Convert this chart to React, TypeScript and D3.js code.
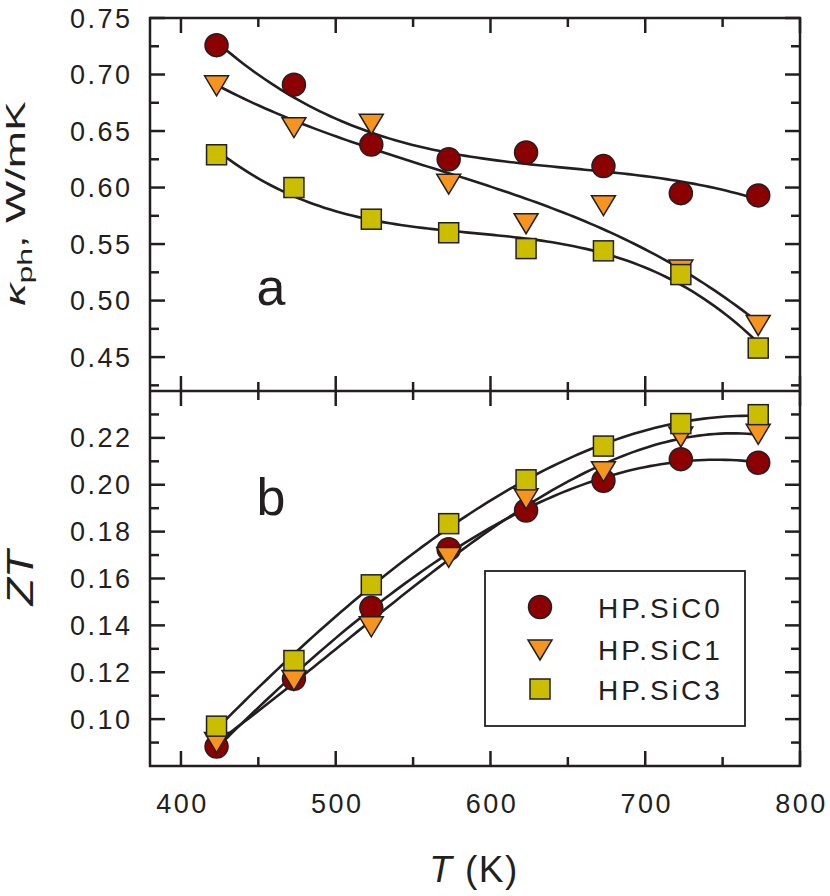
import React from 'react';
import * as d3 from 'd3';

// Temperatures (K)
const temperatures = [423, 473, 523, 573, 623, 673, 723, 773];

// Panel a: phonon thermal conductivity (W/mK)
const kappaSiC0 = [0.726, 0.691, 0.638, 0.625, 0.631, 0.619, 0.595, 0.593];
const kappaSiC1 = [0.690, 0.653, 0.656, 0.603, 0.568, 0.584, 0.527, 0.478];
const kappaSiC3 = [0.629, 0.600, 0.572, 0.560, 0.546, 0.544, 0.523, 0.458];

// Panel b: ZT
const ztSiC0 = [0.0883, 0.1172, 0.1475, 0.1725, 0.189, 0.2017, 0.2109, 0.2094];
const ztSiC1 = [0.090, 0.1165, 0.1394, 0.169, 0.194, 0.2056, 0.2204, 0.2215];
const ztSiC3 = [0.097, 0.125, 0.1573, 0.1834, 0.2021, 0.2165, 0.2261, 0.2299];

const seriesNames = ['HP.SiC0', 'HP.SiC1', 'HP.SiC3'];

// Axis ticks
const xMajorTicks = [400, 500, 600, 700, 800];
const xMinorTicks = [450, 550, 650, 750];
const yAMajorTicks = [0.45, 0.5, 0.55, 0.6, 0.65, 0.7, 0.75];
const yAMinorTicks = [0.425, 0.475, 0.525, 0.575, 0.625, 0.675, 0.725];
const yBMajorTicks = [0.1, 0.12, 0.14, 0.16, 0.18, 0.2, 0.22];
const yBMinorTicks = [0.09, 0.11, 0.13, 0.15, 0.17, 0.19, 0.21, 0.23];

const INK = '#231F20';
const COLORS = ['#8B0000', '#F7941D', '#CBBE00'];

// least-squares cubic fit of y on x
function cubicFit(xs: number[], ys: number[]) {
  const m = d3.mean(xs) as number;
  const s = 100;
  const n = 4;
  const A: number[][] = Array.from({ length: n }, () => new Array(n + 1).fill(0));
  xs.forEach((xv, i) => {
    const t = (xv - m) / s;
    const pw = [1, t, t * t, t * t * t];
    for (let r = 0; r < n; r++) {
      for (let c = 0; c < n; c++) A[r][c] += pw[r] * pw[c];
      A[r][n] += pw[r] * ys[i];
    }
  });
  for (let i = 0; i < n; i++) {
    let p = i;
    for (let r = i + 1; r < n; r++) if (Math.abs(A[r][i]) > Math.abs(A[p][i])) p = r;
    [A[i], A[p]] = [A[p], A[i]];
    for (let r = 0; r < n; r++) {
      if (r === i) continue;
      const f = A[r][i] / A[i][i];
      for (let c = i; c <= n; c++) A[r][c] -= f * A[i][c];
    }
  }
  const coef = A.map((row, i) => row[n] / row[i]);
  return (xv: number) => {
    const t = (xv - m) / s;
    return coef[0] + coef[1] * t + coef[2] * t * t + coef[3] * t * t * t;
  };
}

function Marker({ kind, cx, cy }: { kind: number; cx: number; cy: number }) {
  if (kind === 0)
    return <circle cx={cx} cy={cy} r={11.5} fill={COLORS[0]} stroke={INK} strokeWidth={1.5} />;
  if (kind === 1) {
    const w = 12, h = 10;
    return (
      <path
        d={`M${cx - w},${cy - h}L${cx + w},${cy - h}L${cx},${cy + h}Z`}
        fill={COLORS[1]}
        stroke={INK}
        strokeWidth={1.5}
        strokeLinejoin="miter"
      />
    );
  }
  return <rect x={cx - 10} y={cy - 10} width={20} height={20} fill={COLORS[2]} stroke={INK} strokeWidth={1.5} />;
}

const tickFont: React.CSSProperties = {
  fontFamily: '"Liberation Sans", Arial, sans-serif',
  fontSize: 27,
  letterSpacing: '2.5px',
  fill: INK,
};

export default function App() {
  const left = 150, right = 800, topA = 18, mid = 391, bottomB = 766;
  const x = d3.scaleLinear().domain([380, 800]).range([left, right]);
  const yA = d3.scaleLinear().domain([0.42, 0.75]).range([mid, topA]);
  const yB = d3.scaleLinear().domain([0.08, 0.24]).range([bottomB, mid]);

  const sampleT = d3.range(0, 101).map((i) => 423 + (i * (773 - 423)) / 100);
  const panelA = [kappaSiC0, kappaSiC1, kappaSiC3];
  const panelB = [ztSiC0, ztSiC1, ztSiC3];

  const curve = (vals: number[], y: d3.ScaleLinear<number, number>) => {
    const f = cubicFit(temperatures, vals);
    return d3
      .line<number>()
      .x((t) => x(t))
      .y((t) => y(f(t)))
      .curve(d3.curveLinear)(sampleT) as string;
  };

  const yTicks = (
    y: d3.ScaleLinear<number, number>,
    majors: number[],
    minors: number[],
    key: string
  ) => (
    <g key={key}>
      {majors.map((v) => (
        <g key={'M' + v}>
          <line x1={left} x2={left + 15} y1={y(v)} y2={y(v)} stroke={INK} strokeWidth={2.5} />
          <line x1={right} x2={right - 15} y1={y(v)} y2={y(v)} stroke={INK} strokeWidth={2.5} />
          <text x={132.5} y={y(v) + 9.5} textAnchor="end" style={tickFont}>
            {v.toFixed(2)}
          </text>
        </g>
      ))}
      {minors.map((v) => (
        <g key={'m' + v}>
          <line x1={left} x2={left + 9} y1={y(v)} y2={y(v)} stroke={INK} strokeWidth={2.5} />
          <line x1={right} x2={right - 9} y1={y(v)} y2={y(v)} stroke={INK} strokeWidth={2.5} />
        </g>
      ))}
    </g>
  );

  const xTicks = (yTop: number, yBot: number, key: string) => (
    <g key={key}>
      {xMajorTicks.map((v) => (
        <g key={'M' + v}>
          <line x1={x(v)} x2={x(v)} y1={yTop} y2={yTop + 15} stroke={INK} strokeWidth={2.5} />
          <line x1={x(v)} x2={x(v)} y1={yBot} y2={yBot - 15} stroke={INK} strokeWidth={2.5} />
        </g>
      ))}
      {xMinorTicks.map((v) => (
        <g key={'m' + v}>
          <line x1={x(v)} x2={x(v)} y1={yTop} y2={yTop + 9} stroke={INK} strokeWidth={2.5} />
          <line x1={x(v)} x2={x(v)} y1={yBot} y2={yBot - 9} stroke={INK} strokeWidth={2.5} />
        </g>
      ))}
    </g>
  );

  const legendX = 540, legendTextX = 598;
  const legendMarkerY = [607, 650, 689];
  const legendTextY = [618, 660, 700];

  return (
    <svg
      width={830}
      height={896}
      style={{ position: 'absolute', left: 0, top: 0, background: '#fff' }}
    >
      <rect x={0} y={0} width={830} height={896} fill="#fff" />

      {/* curves */}
      {panelA.map((vals, i) => (
        <path key={'ca' + i} d={curve(vals, yA)} fill="none" stroke={INK} strokeWidth={2.6} />
      ))}
      {panelB.map((vals, i) => (
        <path key={'cb' + i} d={curve(vals, yB)} fill="none" stroke={INK} strokeWidth={2.6} />
      ))}

      {/* markers */}
      {panelA.map((vals, i) =>
        vals.map((v, j) => <Marker key={`a${i}-${j}`} kind={i} cx={x(temperatures[j])} cy={yA(v)} />)
      )}
      {panelB.map((vals, i) =>
        vals.map((v, j) => <Marker key={`b${i}-${j}`} kind={i} cx={x(temperatures[j])} cy={yB(v)} />)
      )}

      {/* frames */}
      <rect x={left} y={topA} width={right - left} height={bottomB - topA} fill="none" stroke={INK} strokeWidth={2.5} />
      <line x1={left} x2={right} y1={mid} y2={mid} stroke={INK} strokeWidth={2.5} />

      {yTicks(yA, yAMajorTicks, yAMinorTicks, 'ya')}
      {yTicks(yB, yBMajorTicks, yBMinorTicks, 'yb')}
      {xTicks(topA, mid, 'xa')}
      {xTicks(mid, bottomB, 'xb')}

      {xMajorTicks.map((v) => (
        <text key={'xl' + v} x={x(v) + 1.5} y={813} textAnchor="middle" style={tickFont}>
          {v}
        </text>
      ))}

      {/* panel letters */}
      <text x={271} y={305} textAnchor="middle" style={{ fontFamily: '"Liberation Sans", Arial, sans-serif', fontSize: 52, fill: INK }}>
        a
      </text>
      <text x={271} y={515} textAnchor="middle" style={{ fontFamily: '"Liberation Sans", Arial, sans-serif', fontSize: 52, fill: INK }}>
        b
      </text>

      {/* axis titles */}
      <text
        x={474}
        y={882}
        textAnchor="middle"
        style={{ fontFamily: '"Liberation Sans", Arial, sans-serif', fontSize: 37, letterSpacing: '1.5px', fill: INK }}
      >
        <tspan fontStyle="italic">T</tspan> (K)
      </text>

      <g transform="translate(25,203.5) rotate(-90) scale(1.6,1)">
        <text
          x={0}
          y={0}
          textAnchor="middle"
          style={{ fontFamily: '"Liberation Sans", Arial, sans-serif', fontSize: 28, fill: INK }}
        >
          <tspan fontStyle="italic">κ</tspan>
          <tspan fontSize={20} dy={7}>ph</tspan>
          <tspan dy={-7}>, W/mK</tspan>
        </text>
      </g>

      <g transform="translate(33,578) rotate(-90) scale(1.25,1)">
        <text
          x={0}
          y={0}
          textAnchor="middle"
          style={{ fontFamily: '"Liberation Sans", Arial, sans-serif', fontSize: 36, fontStyle: 'italic', fill: INK }}
        >
          ZT
        </text>
      </g>

      {/* legend */}
      <rect x={485} y={571} width={260} height={155} fill="#fff" stroke={INK} strokeWidth={1.8} />
      {seriesNames.map((name, i) => (
        <g key={name}>
          <Marker kind={i} cx={legendX} cy={legendMarkerY[i]} />
          <text
            x={legendTextX}
            y={legendTextY[i]}
            style={{ fontFamily: '"Liberation Sans", Arial, sans-serif', fontSize: 28, letterSpacing: '3px', fill: INK }}
          >
            {name}
          </text>
        </g>
      ))}
    </svg>
  );
}
